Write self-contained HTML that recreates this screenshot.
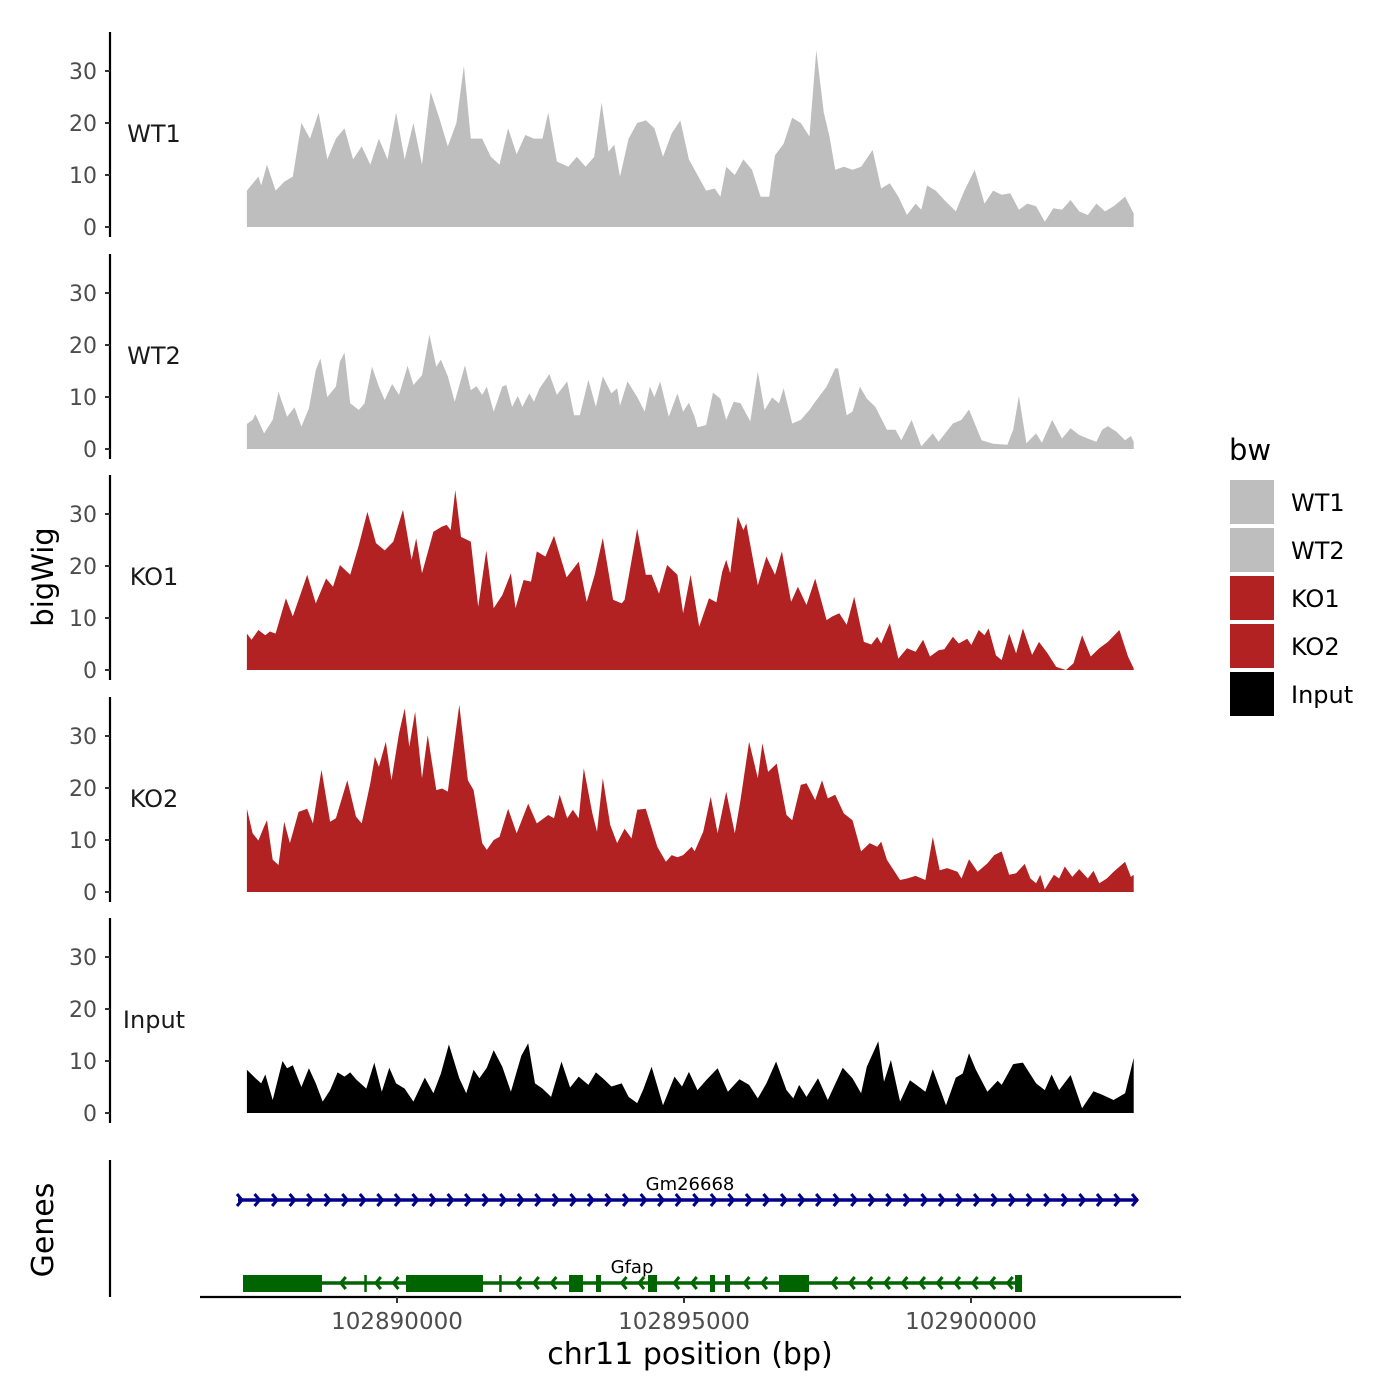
<!DOCTYPE html>
<html><head><meta charset="utf-8"><style>
html,body{margin:0;padding:0;background:#fff;}
svg{display:block;font-family:"DejaVu Sans","Liberation Sans",sans-serif;}
</style></head><body>
<svg id="chart" width="1400" height="1400" viewBox="0 0 1400 1400" xmlns="http://www.w3.org/2000/svg">
<rect width="1400" height="1400" fill="#fff"/>
<g id="panels"></g>
<g id="genes"></g>
<g id="xaxis"></g>
<text transform="translate(53,577) rotate(-90)" text-anchor="middle" font-size="29" fill="#000">bigWig</text>
<text transform="translate(53,1230) rotate(-90)" text-anchor="middle" font-size="30" fill="#000">Genes</text>
<text x="690" y="1364" text-anchor="middle" font-size="30" fill="#000">chr11 position (bp)</text>
<g id="legend">
<text x="1229" y="460" font-size="29" fill="#000">bw</text>
</g>
</svg>
<script>
const START = 102887285;
const wt1Pos=[100,300,350,450,600,750,900,1050,1200,1350,1500,1650,1800,1950,2100,2250,2400,2550,2700,2850,3000,3150,3300,3450,3600,3750,3880,4000,4200,4350,4500,4650,4800,4950,5100,5250,5350,5500,5700,5850,6000,6150,6280,6400,6500,6600,6750,6900,7050,7200,7350,7500,7650,7800,7950,8100,8250,8350,8450,8600,8750,8900,9050,9200,9300,9450,9600,9750,9900,10020,10150,10250,10350,10500,10650,10800,11000,11150,11300,11450,11600,11750,11850,11950,12100,12250,12450,12600,12780,12950,13100,13250,13400,13550,13700,13850,14000,14150,14300,14450,14600,14750,14900,15050,15200,15400,15550];
const wt1Val=[7,9.7,8,12,7,8.7,9.7,20,17,22,13,17,19,13,15.5,12,17,13,22,13,20,12,26,21,15.5,20,31,17,17,13.5,12,19,14,17.7,17,17,22,12.6,11.6,13.5,11.6,13.5,24,14.5,15.8,9.7,17,20,20.5,19,13.5,18,20.5,13,10,7,7.4,5.8,11.6,10,13,11,5.8,5.8,13.8,16,21,20,17.4,34,22,17.4,11,11.6,11,11.6,14.8,7.4,8.4,5.8,2.3,4.5,3.3,8,7,5.2,3,7,11,4.5,7,6.2,6.5,3.3,4.5,4,1,3.6,3.3,5.2,3,2.3,4.5,3,4,5.8,2.6];
const wt2Pos=[100,200,250,400,550,650,800,930,1050,1180,1300,1380,1500,1650,1720,1800,1900,2050,2150,2280,2400,2500,2630,2750,2900,3000,3150,3280,3400,3480,3600,3720,3900,4000,4100,4200,4280,4400,4550,4620,4720,4820,4900,5020,5100,5200,5370,5500,5680,5800,5900,6050,6180,6300,6450,6550,6600,6730,6900,7030,7120,7200,7300,7450,7600,7700,7800,7900,7950,8100,8220,8350,8450,8580,8700,8870,9000,9120,9250,9370,9450,9600,9750,9900,10000,10200,10350,10400,10550,10650,10780,10900,11050,11250,11400,11500,11680,11850,12050,12150,12400,12550,12680,12900,13100,13350,13450,13550,13680,13850,13950,14130,14300,14450,14600,14750,14900,15000,15100,15250,15400,15500,15550];
const wt2Val=[4.8,5.6,6.7,3,5.6,11,6.2,8,4.3,7.8,15.2,17.4,10,12,16.8,18.5,8.8,7.5,8.8,15.8,12,9.4,12.5,10.4,16,12.3,14.2,22,15.8,17.2,14,9.1,16.1,11.3,12.1,10.4,12,7.2,12,12.3,8.1,10.2,8.1,10.7,9.1,11.7,14.4,10.4,13,6.5,6.5,13.3,8.1,14,10.7,11.7,8.3,13,10,7.2,12,10,13,6.2,10.7,7.2,8.9,6.2,4.2,4.6,10.8,9.7,5.6,9.1,8.8,5.3,14.9,7.5,9.9,8.8,11.7,4.9,5.6,7.5,9.1,12,15.5,15.5,6.5,7.2,12,9.7,8.1,3.7,3.7,1.7,5.6,0.5,3,1.4,4.9,5.6,7.6,1.7,1,0.8,3.7,10.2,1.1,3,1.2,5.6,2,4,2.7,2,1.4,3.7,4.4,3.3,1.7,2.5,1.4];
const ko1Pos=[100,180,300,420,500,600,780,900,1000,1150,1300,1480,1600,1720,1900,2050,2200,2350,2500,2650,2820,2970,3050,3150,3350,3500,3580,3650,3730,3830,4000,4130,4270,4400,4550,4700,4780,4920,5050,5150,5300,5450,5670,5880,6020,6160,6300,6480,6630,6680,6900,7050,7150,7280,7420,7600,7700,7830,7980,8150,8280,8380,8450,8520,8650,8750,8800,9000,9150,9300,9420,9580,9700,9850,10000,10200,10300,10420,10550,10680,10850,10980,11080,11150,11300,11450,11600,11750,11880,12000,12150,12250,12400,12500,12650,12720,12850,12950,13020,13150,13250,13380,13500,13620,13780,13900,14050,14200,14370,14500,14650,14800,14950,15100,15300,15450,15550];
const ko1Val=[7,5.8,7.7,6.7,7.4,7,13.8,10.3,13.5,18.3,12.8,17.6,16,20.2,18.3,24,30.4,24.4,23,24.7,30.8,21.2,25.3,18.6,26.6,27.6,27.9,26.9,34.6,25.6,24.7,12.2,23,11.9,14.4,18.6,11.9,17.3,17,22.8,21.8,25.8,17.8,20.8,13.1,18.3,25.4,13.5,12.8,13.5,27.2,18.3,18.3,14.7,20.2,18.3,10.9,18.3,8.3,13.8,13,18.9,21.2,18.6,29.5,26.9,28.2,16.3,21.8,18.3,22.8,13.1,16,12.5,17.6,9.6,10.3,10.9,8.7,14.1,5.4,4.9,6.4,5.1,9,2.2,4.2,3.5,5.8,2.6,3.8,4,6.4,5.1,6,4.8,7.7,6.7,8,2.8,1.9,7,3.2,8,2.9,5.4,3.2,0.6,0,1.3,6.7,2.6,4.2,5.4,7.7,2.6,0.3];
const ko2Pos=[100,200,300,400,450,550,650,750,850,1000,1150,1250,1400,1550,1650,1850,2000,2100,2250,2330,2400,2520,2620,2750,2850,2930,3030,3150,3250,3400,3500,3600,3800,3950,4050,4200,4280,4400,4500,4650,4800,5000,5150,5350,5450,5550,5680,5780,5880,5970,6120,6200,6300,6430,6550,6680,6800,6900,7050,7250,7400,7500,7600,7700,7850,7900,8050,8180,8300,8450,8600,8700,8850,9000,9080,9180,9330,9500,9600,9750,9850,10000,10120,10220,10350,10500,10650,10800,10950,11080,11150,11250,11480,11600,11750,11920,12050,12170,12300,12480,12550,12680,12830,13000,13120,13250,13380,13500,13650,13750,13850,13920,14000,14160,14250,14350,14480,14600,14750,14850,14950,15080,15200,15400,15500,15550];
const ko2Val=[16,11.3,9.9,12.6,13.8,6.2,5.2,13.5,9.4,15.4,16,13.2,23.5,13.5,14.2,21.5,14.5,13.2,20.9,26,24.1,28.9,21.5,30.5,35.3,27.9,34.7,21.9,30.2,19.6,19.9,19.3,36,21.5,19.6,9.4,8.1,10,10.6,16,11.3,17,13.2,14.8,14.2,18.7,14.2,15.8,14.2,23.8,15.1,11.6,21.9,12.9,9.4,12.2,10.3,15.8,16,8.7,5.8,7.1,6.7,7.1,8.7,7.8,11.6,18.3,11.3,19.3,11.3,17.7,28.9,21.9,28.6,23.1,24.7,14.8,13.8,20.6,20.9,17.7,21.5,18,18.7,15.1,13.8,7.8,9.4,8.7,9.7,6.2,2.3,2.6,3.1,2.3,10.6,4.2,4.6,3.9,2.6,6.3,3.9,5.5,7.1,7.8,3.3,3.6,5.4,2.6,1.7,3.3,0.5,3.3,2.6,4.9,2.9,4.4,2.6,4.1,1.7,2.6,3.9,5.8,2.9,3.3];
const inpPos=[100,250,350,420,550,720,800,900,1050,1180,1300,1420,1550,1680,1800,1900,2000,2180,2320,2450,2580,2700,2850,3000,3200,3350,3480,3620,3800,3920,4050,4150,4280,4400,4550,4700,4880,5000,5120,5250,5400,5580,5730,5880,6050,6180,6300,6450,6630,6750,6900,7000,7150,7350,7550,7680,7800,7950,8100,8300,8480,8680,8850,9000,9150,9320,9500,9620,9720,9850,10050,10220,10480,10650,10800,10900,11100,11200,11320,11480,11650,11800,11920,12050,12280,12450,12570,12680,12800,13000,13180,13250,13450,13620,13850,14000,14120,14250,14450,14650,14850,15000,15200,15400,15550];
const inpVal=[8.3,6.7,5.7,7.4,2.5,10,8.6,9.2,5,8.6,5.7,2.2,4.4,7.8,7,7.8,6.5,4.7,9.7,4.1,8.7,5.7,4.7,2.2,6.8,3.8,7.6,13.2,6.7,3.8,8.3,6.7,8.7,12.1,8.9,4.1,11,13.4,5.7,4.7,3.1,9.9,4.9,7,5.4,7.8,6.7,5.1,5.7,3.1,1.9,4.4,8.9,1.5,7,5.1,7.9,4.4,6.3,8.6,4.1,6.5,5.4,2.8,5.7,9.9,4.4,2.8,5.4,3.1,6.7,2.5,8.7,6.7,3.8,8.9,13.8,6,10.2,2.2,6.3,5.1,4.1,8.4,1.5,6.8,7.6,11.5,8.3,4.1,6.2,5.4,9.4,9.7,5.7,4.4,7.4,4.4,7.3,0.9,4.2,3.5,2.5,3.8,10.6];
const sampleNames=["WT1","WT2","KO1","KO2","Input"];
const sampleColors=["#bebebe","#bebebe","#b22222","#b22222","#000000"];
const yTicks=[0,10,20,30];
const xTicks=[102890000,102895000,102900000];
const gm26668=[102887230,102902909];
const gfapSpan=[102887317,102900889];
const gfapExonStart=[102887317,102889430,102890157,102891780,102892997,102893467,102894373,102895453,102895714,102896655,102900767];
const gfapExonEnd=[102888693,102889470,102891498,102891820,102893240,102893554,102894530,102895540,102895801,102897178,102900889];

const NS="http://www.w3.org/2000/svg";
function mk(tag,attrs,parent){const e=document.createElementNS(NS,tag);for(const k in attrs)e.setAttribute(k,attrs[k]);parent.appendChild(e);return e;}
function xs(bp){return 397+(bp-102890000)*0.0574;}
const bases=[227,449,670,892,1113];
function ys(v,i){return bases[i]-v*5.2;}

const panels=document.getElementById('panels');
const allPos=[wt1Pos,wt2Pos,ko1Pos,ko2Pos,inpPos];
const allVal=[wt1Val,wt2Val,ko1Val,ko2Val,inpVal];
for(let i=0;i<5;i++){
  const g=mk('g',{},panels);
  
  
  const pos=allPos[i],val=allVal[i];
  let d='M'+xs(START+pos[0]).toFixed(1)+','+bases[i];
  for(let j=0;j<pos.length;j++)d+=' L'+xs(START+pos[j]).toFixed(1)+','+ys(val[j],i).toFixed(1);
  d+=' L'+xs(START+pos[pos.length-1]).toFixed(1)+','+bases[i]+' Z';
  const a=mk('path',{d:d,fill:sampleColors[i]},g);
  
  
  const top=bases[i]-195, bot=bases[i]+10;
  const ax=mk('line',{x1:110,x2:110,y1:top,y2:bot,stroke:'#000','stroke-width':2.2},g);
  
  
  for(const t of yTicks){
    const y=ys(t,i);
    mk('line',{x1:105,x2:110,y1:y,y2:y,stroke:'#333','stroke-width':2},g);
    const tl=mk('text',{x:97,y:y+8,'text-anchor':'end','font-size':22,fill:'#4d4d4d'},g);
    tl.textContent=t;
    
    
  }
  const lab=mk('text',{x:154,y:bases[i]-85,'text-anchor':'middle','font-size':24,fill:'#1a1a1a'},g);
  lab.textContent=sampleNames[i];
  
  
}

const gg=document.getElementById('genes');
const gax=mk('line',{x1:110,x2:110,y1:1160,y2:1297,stroke:'#000','stroke-width':2.2},gg);


const gm=mk('g',{},gg);


const b0=xs(gm26668[0]),b1=xs(gm26668[1]);
mk('line',{x1:b0,x2:b1,y1:1200,y2:1200,stroke:'#00008b','stroke-width':3.5},gm);
for(let x=b0+4;x<=b1+1;x+=17.55){mk('polyline',{points:(x-5)+',1194 '+x+',1200 '+(x-5)+',1206',fill:'none',stroke:'#00008b','stroke-width':3},gm);}
const gml=mk('text',{x:690,y:1190,'text-anchor':'middle','font-size':18,fill:'#000'},gm);
gml.textContent='Gm26668';



const gf=mk('g',{},gg);


const g0=xs(gfapSpan[0]),g1=xs(gfapSpan[1]);
mk('line',{x1:g0,x2:g1,y1:1283,y2:1283,stroke:'#006400','stroke-width':3.5},gf);
for(let x=g0+10;x<g1;x+=17.55){
  let inside=false;
  for(let k=0;k<gfapExonStart.length;k++){if(x>xs(gfapExonStart[k])-6&&x<xs(gfapExonEnd[k])+6)inside=true;}
  if(!inside)mk('polyline',{points:(x+5)+',1277 '+x+',1283 '+(x+5)+',1289',fill:'none',stroke:'#006400','stroke-width':3},gf);
}
for(let k=0;k<gfapExonStart.length;k++){
  const x0=xs(gfapExonStart[k]),x1=xs(gfapExonEnd[k]);
  const r=mk('rect',{x:x0,y:1275,width:Math.max(x1-x0,2.5),height:17,fill:'#006400'},gf);
  
  
}
const gfl=mk('text',{x:632,y:1273,'text-anchor':'middle','font-size':18,fill:'#000'},gf);
gfl.textContent='Gfap';



const xa=document.getElementById('xaxis');
const xl=mk('line',{x1:200,x2:1181,y1:1297,y2:1297,stroke:'#000','stroke-width':2.2},xa);


for(const t of xTicks){
  const x=xs(t);
  mk('line',{x1:x,x2:x,y1:1297,y2:1303,stroke:'#333','stroke-width':2},xa);
  const tl=mk('text',{x:x,y:1329,'text-anchor':'middle','font-size':23,fill:'#4d4d4d'},xa);
  tl.textContent=t;
  
  
}

const lg=document.getElementById('legend');
for(let i=0;i<5;i++){
  const y=480+i*48;
  const r=mk('rect',{x:1230,y:y,width:44,height:44,fill:sampleColors[i]},lg);
  
  
  const t=mk('text',{x:1291,y:y+31,'font-size':24,fill:'#000'},lg);
  t.textContent=sampleNames[i];
  
  
}
</script>
</body></html>
